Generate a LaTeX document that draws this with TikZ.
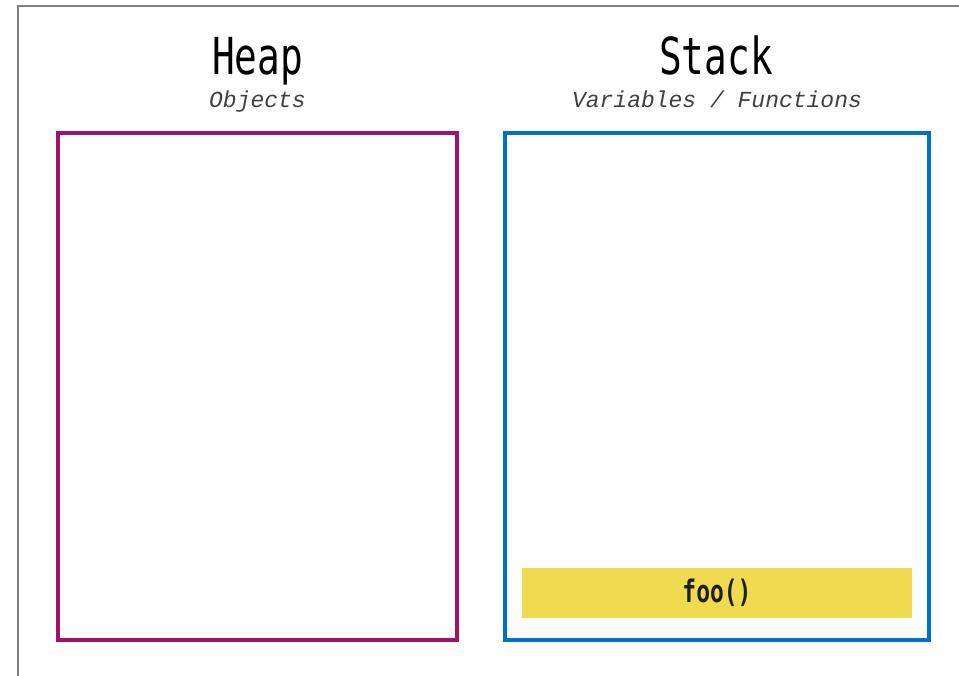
\documentclass[tikz,border=0pt]{standalone}
\usepackage{fontspec}
\newfontfamily\titlefont[FakeStretch=0.74]{DejaVu Sans Mono}
\newfontfamily\subfont{Liberation Mono}
\definecolor{heapc}{RGB}{163,18,104}
\definecolor{stackc}{RGB}{0,114,196}
\definecolor{framec}{RGB}{128,128,128}
\definecolor{barc}{RGB}{240,218,80}
\begin{document}
\begin{tikzpicture}[x=1pt,y=-1pt,
  region/.style={draw, line width=4pt, inner sep=0pt},
  title/.style={font=\titlefont\fontsize{51}{51}\selectfont, anchor=base, inner sep=0pt},
  subtitle/.style={font=\subfont\itshape\fontsize{23}{23}\selectfont, anchor=base, inner sep=0pt, text=black!75},
  framebar/.style={framec, line width=2pt}]
\useasboundingbox (0,0) rectangle (959,676);
\coordinate (fbl) at (18,676);
\coordinate (ftl) at (18,6);
\coordinate (ftr) at (959,6);
\draw[framebar] (fbl) -- (ftl) -- (ftr);
\node[region, draw=heapc] (heap) at (257.5,386.5) [minimum width=399pt, minimum height=506pt] {};
\node[region, draw=stackc] (stack) at (717,386.5) [minimum width=424pt, minimum height=506pt] {};
\node[title] (heapt) at (257.5,75) {Heap};
\node[subtitle] (heaps) at (257.5,108) {Objects};
\node[title] (stackt) at (716,75) {Stack};
\node[subtitle] (stacks) at (717,108) {Variables / Functions};
\node[fill=barc, minimum width=390pt, minimum height=50pt, inner sep=0pt,
  font=\titlefont\bfseries\fontsize{31}{31}\selectfont, text=black!88] (foo) at (717,593) {foo()};
\end{tikzpicture}
\end{document}
